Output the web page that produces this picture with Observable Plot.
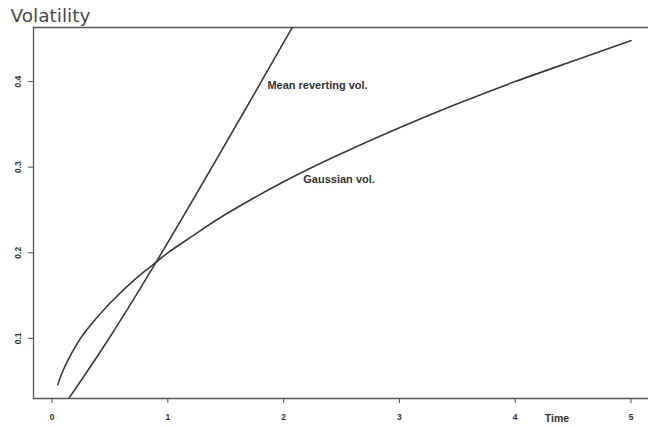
<!DOCTYPE html>
<html>
<head>
<meta charset="utf-8">
<script src="https://cdn.jsdelivr.net/npm/d3@7"></script>
<script src="https://cdn.jsdelivr.net/npm/@observablehq/plot@0.6"></script>
<style>
  html, body { margin: 0; padding: 0; background: #ffffff; }
  #chart svg { display: block; }
</style>
</head>
<body>
<div id="chart"></div>
<script>
// Gaussian volatility term structure
const gaussT   = [0.05, 0.1, 0.2, 0.3, 0.5, 0.75, 0.9, 1.0, 1.25, 1.5, 2.0, 2.5, 3.0, 3.5, 4.0, 4.5, 5.0];
const gaussVol = [0.046, 0.064, 0.090, 0.110, 0.141, 0.173, 0.189, 0.200, 0.223, 0.245, 0.283, 0.316, 0.346, 0.374, 0.400, 0.424, 0.448];

// Mean reverting volatility (runs off the top of the panel)
const mrT   = [0.145, 0.894, 2.074, 2.3];
const mrVol = [0.030, 0.188, 0.463, 0.517];

// Axis ticks
const xTicks = [0, 1, 2, 3, 4, 5];
const yTicks = [0.1, 0.2, 0.3, 0.4];

// Annotations
const curveLabels = [
  {t: 1.86, v: 0.396, text: "Mean reverting vol."},
  {t: 2.17, v: 0.2856, text: "Gaussian vol."}
];

const gauss = gaussT.map((t, i) => ({t, v: gaussVol[i]}));
const meanRev = mrT.map((t, i) => ({t, v: mrVol[i]}));

const ink = "#3a3a3a";
const axisInk = "#555";

const chart = Plot.plot({
  width: 648,
  height: 426,
  marginLeft: 33,
  marginRight: 0,
  marginTop: 27,
  marginBottom: 28,
  style: {background: "#ffffff", fontFamily: "'Liberation Sans', Arial, sans-serif"},
  x: {domain: [-0.16, 5.151]},
  y: {domain: [0.0298, 0.4632]},
  marks: [
    Plot.frame({anchor: "left", stroke: axisInk, strokeWidth: 1.3}),
    Plot.frame({anchor: "top", stroke: axisInk, strokeWidth: 1.3}),
    Plot.frame({anchor: "bottom", stroke: axisInk, strokeWidth: 1.3}),
    Plot.axisX({
      ticks: xTicks, tickSize: 5, tickPadding: 10, stroke: axisInk,
      fontSize: 8.5, fontWeight: "bold", fill: "#333", label: null,
      tickFormat: d3.format("d")
    }),
    Plot.axisY({
      ticks: yTicks, tickSize: 5, tickRotate: -90, tickPadding: 8, stroke: axisInk,
      fontSize: 8.5, fontWeight: "bold", fill: "#333", label: null,
      tickFormat: d3.format(".1f")
    }),
    Plot.line(gauss, {x: "t", y: "v", stroke: ink, strokeWidth: 1.6, curve: "natural", clip: true}),
    Plot.line(meanRev, {x: "t", y: "v", stroke: ink, strokeWidth: 1.6, curve: "natural", clip: true}),
    Plot.text(curveLabels, {
      x: "t", y: "v", text: "text", textAnchor: "start",
      fontSize: 11, fontWeight: "bold", fill: "#333"
    }),
    Plot.text(["Time"], {
      x: [4.36], frameAnchor: "bottom", dy: 20, lineAnchor: "middle",
      fontSize: 10.5, fontWeight: "bold", fill: "#333"
    }),
    Plot.text(["Volatility"], {
      frameAnchor: "top-left", dx: -23, dy: -11, lineAnchor: "middle", textAnchor: "start",
      fontSize: 18.5, fill: "#4a4a4a",
      fontFamily: "'DejaVu Sans', sans-serif"
    })
  ]
});

document.getElementById("chart").appendChild(chart);
</script>
</body>
</html>
